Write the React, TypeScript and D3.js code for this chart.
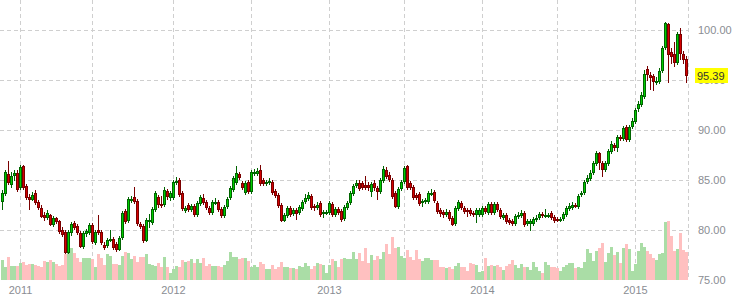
import React from "react";
import * as d3 from "d3";

const opens = [82.8,83.6,85.6,84.5,85.4,85.7,84.2,86.4,84.4,83.3,83.0,83.7,82.8,82.2,81.5,81.2,81.5,80.5,81.2,80.9,80.0,79.8,77.7,79.7,80.7,80.4,79.7,78.3,79.6,79.7,80.5,78.7,80.0,79.8,78.5,78.4,79.0,79.1,78.6,78.0,79.2,81.9,80.9,82.9,83.3,82.9,80.6,80.4,78.9,80.9,80.7,82.0,83.3,82.6,82.5,83.9,83.2,83.2,84.7,85.0,83.7,81.9,82.5,82.0,82.4,81.5,82.6,83.2,82.8,82.2,81.7,82.7,82.8,82.1,81.4,82.3,83.2,84.0,84.7,85.6,84.7,83.7,84.8,83.8,85.6,85.6,86.0,85.0,84.6,84.7,84.8,83.9,83.5,82.5,80.9,81.4,82.2,81.6,82.0,81.7,82.1,82.8,83.1,83.4,82.4,82.2,82.7,81.6,81.7,81.7,82.6,81.5,82.1,81.9,81.1,82.2,82.7,83.6,84.4,84.7,84.7,84.5,84.5,83.8,84.7,84.2,83.8,84.9,86.0,85.5,85.0,83.7,82.3,84.1,84.8,86.4,84.7,84.3,83.5,83.6,82.8,82.8,82.8,83.6,83.8,82.7,82.0,81.8,81.5,81.8,81.2,80.6,82.1,82.7,82.2,82.0,82.0,81.7,81.5,81.5,81.5,82.2,81.7,82.6,81.7,82.6,82.0,81.2,81.5,81.0,80.9,80.6,81.3,81.4,81.7,80.6,80.6,80.6,81.0,81.2,81.6,81.4,81.4,81.7,81.3,81.1,81.0,81.1,81.5,82.1,82.2,82.5,82.3,83.5,83.7,84.8,85.1,85.7,86.6,87.7,86.7,86.0,86.6,87.8,88.5,88.2,89.3,89.1,90.3,89.0,90.3,90.8,92.1,92.5,93.3,96.1,95.5,95.4,94.7,94.8,95.9,98.2,100.6,97.8,97.6,96.7,99.6,97.6,97.1];
const highs = [84.0,86.0,86.9,85.8,86.0,86.0,86.5,86.5,84.6,83.6,83.8,84.0,83.0,82.5,81.8,82.0,81.6,81.4,81.3,81.0,80.3,80.0,80.0,80.8,80.9,80.6,79.9,79.9,80.1,80.7,80.7,80.0,81.5,80.0,78.8,79.2,80.0,79.3,78.8,79.4,81.9,82.1,83.3,83.4,84.3,83.1,80.8,80.6,81.2,81.6,82.3,83.9,83.5,83.4,84.3,84.1,83.9,85.0,85.3,85.2,83.9,82.4,82.7,82.6,82.6,82.9,83.5,83.6,83.0,82.4,83.0,83.2,83.0,82.3,82.5,83.3,84.4,85.4,86.4,85.8,84.9,84.9,85.0,86.0,86.1,86.2,86.5,85.2,85.0,85.2,85.0,84.1,83.7,82.7,81.7,82.4,82.4,82.2,82.2,82.5,83.0,83.6,83.8,83.6,82.6,82.8,82.9,82.0,82.0,82.9,82.8,82.3,82.3,82.1,82.5,82.9,83.9,84.6,85.0,85.0,84.9,85.4,84.8,84.8,85.0,84.4,85.2,86.4,86.3,85.8,85.2,83.9,84.3,85.0,86.4,86.5,84.9,84.5,83.7,83.8,83.1,83.2,83.9,84.1,84.0,82.9,82.2,82.0,82.1,82.0,81.4,82.4,83.0,82.9,82.4,82.2,82.2,81.9,82.2,82.2,82.4,82.4,82.8,82.8,82.8,82.8,82.2,81.7,81.7,81.2,81.1,81.6,81.8,82.0,81.9,81.1,81.1,81.3,81.5,81.8,81.8,82.1,81.7,81.9,81.5,81.3,81.3,81.8,82.4,82.7,82.8,82.7,83.6,83.9,85.0,85.5,86.0,86.9,87.9,87.8,86.9,86.9,88.1,88.9,88.7,89.5,89.5,90.4,90.5,90.5,91.2,92.2,92.9,93.8,96.0,96.4,95.8,95.6,95.3,96.2,98.4,100.8,100.7,98.2,98.8,99.8,100.2,97.9,97.4];
const lows = [82.0,83.4,84.5,84.2,84.9,83.8,84.0,84.0,83.0,82.0,82.9,82.5,82.0,81.2,80.9,81.0,80.4,80.3,80.6,79.6,79.3,77.6,77.6,79.4,80.0,79.5,78.2,78.1,79.3,79.5,78.6,78.5,79.5,78.5,78.0,78.2,78.8,78.0,77.8,77.9,79.0,80.6,80.7,82.7,82.6,80.4,80.1,78.7,78.8,80.2,80.5,81.8,82.2,82.2,82.3,83.0,82.9,83.0,84.5,83.3,81.9,81.7,81.8,81.8,81.3,81.3,82.4,82.5,82.0,81.5,81.5,82.5,81.8,81.2,81.2,82.1,83.0,83.8,84.5,85.0,84.0,83.5,83.6,83.6,85.4,85.4,84.4,84.4,84.4,84.5,83.5,83.2,82.2,80.8,80.8,81.2,81.3,81.4,81.0,81.5,81.9,82.6,82.9,82.0,81.9,82.0,81.3,81.2,81.5,81.5,81.3,81.3,81.5,80.8,80.9,82.0,82.5,83.4,84.2,83.9,84.0,84.0,83.9,83.3,83.9,83.0,83.6,84.7,85.1,84.8,83.1,82.2,82.1,83.9,84.6,84.0,84.0,83.0,83.0,82.4,82.3,82.6,82.6,83.4,82.7,81.6,81.3,81.2,81.3,80.9,80.4,80.4,81.9,82.0,81.6,81.3,81.4,81.3,80.7,81.3,81.3,81.6,81.5,81.5,81.5,81.8,81.1,81.0,80.6,80.5,80.4,80.4,81.1,81.2,80.3,80.4,79.9,80.4,80.8,81.0,81.2,81.2,81.2,81.0,80.7,80.8,80.8,80.9,81.3,81.9,82.0,82.2,82.1,83.3,83.5,84.6,84.9,85.5,86.4,86.0,85.3,85.8,86.4,87.6,87.9,87.8,88.9,88.9,88.8,88.8,90.1,90.6,91.8,92.3,93.1,94.9,94.0,93.9,94.5,94.6,95.7,98.0,94.7,96.6,96.3,96.5,97.0,96.6,94.7];
const closes = [83.7,85.8,84.7,85.4,85.7,84.0,86.3,84.2,83.2,83.0,83.5,82.7,82.2,81.3,81.2,81.7,80.5,81.2,80.8,79.8,79.5,77.7,79.8,80.6,80.2,79.7,78.3,79.7,79.9,80.5,78.8,79.8,79.7,78.7,78.2,79.0,79.1,78.2,78.0,79.2,81.7,80.8,83.1,83.1,82.8,80.6,80.3,78.9,81.0,81.0,82.1,83.7,82.5,82.4,84.0,83.3,83.7,84.8,84.9,83.5,82.1,82.2,82.0,82.4,81.5,82.7,83.3,82.7,82.2,81.7,82.8,82.8,82.0,81.4,82.3,83.1,84.2,85.2,85.7,85.2,84.2,84.7,83.8,85.8,85.8,85.9,84.6,84.6,84.8,84.9,83.7,83.4,82.4,80.9,81.5,82.2,81.5,82.0,81.6,82.3,82.8,83.2,83.5,82.2,82.2,82.5,81.5,81.8,81.8,82.7,81.5,82.1,81.7,81.0,82.3,82.7,83.7,84.4,84.7,84.1,84.2,84.2,84.2,84.6,84.2,83.8,85.0,86.1,85.3,85.0,83.3,82.3,84.1,84.8,86.2,84.2,84.2,83.2,83.2,82.6,82.9,83.0,83.7,83.7,82.9,81.8,81.6,81.5,81.8,81.1,80.5,82.2,82.8,82.2,81.8,81.8,81.6,81.5,82.0,82.0,82.2,81.8,82.6,81.7,82.6,82.0,81.3,81.5,80.8,80.7,80.6,81.4,81.5,81.7,80.5,80.9,80.9,81.1,81.2,81.6,81.4,81.5,81.5,81.2,80.9,81.0,81.1,81.6,82.2,82.4,82.5,82.4,83.4,83.7,84.8,85.2,85.7,86.7,87.7,86.7,86.0,86.7,87.9,88.6,88.2,89.3,89.1,90.2,89.0,90.3,90.9,92.0,92.6,93.5,95.6,95.5,95.2,94.8,94.9,95.9,98.2,100.7,97.5,97.3,96.7,99.6,97.6,97.0,95.39];
const volumes = [20,13,23,14,14,14,17,18,15,16,16,15,14,13,19,18,20,18,16,14,15,26,27,32,27,22,18,22,22,22,21,13,26,22,15,26,24,16,16,15,24,28,27,21,24,18,23,23,26,16,15,14,17,13,23,13,7,11,14,13,20,18,19,21,17,21,17,22,14,16,14,14,14,13,15,19,28,23,23,21,22,22,19,13,15,13,18,16,11,11,15,11,13,18,13,13,12,12,11,14,13,17,14,11,14,17,16,15,7,15,21,19,13,21,22,21,21,28,21,27,19,32,17,25,20,24,21,28,36,26,43,32,33,24,22,30,23,20,30,21,19,22,22,20,20,20,13,13,12,13,11,14,17,13,13,9,17,16,15,8,9,22,14,15,14,15,13,10,14,16,20,15,12,16,13,13,10,18,13,9,7,18,15,13,13,12,9,13,15,17,17,12,13,12,18,31,27,19,29,32,37,18,27,33,25,28,17,32,36,31,9,16,29,37,33,29,26,22,20,26,27,58,59,44,29,31,47,30,28];

const priceTicks = [75, 80, 85, 90, 95, 100];
const yearLabels = ["2011", "2012", "2013", "2014", "2015"];
const yearIdx = [6, 57, 109, 160, 211];
const gridIdx = [6, 30, 57, 83, 109, 134, 160, 185, 211];
const lastLabel = "95.39";

const W = 738;
const H = 296;

export default function App() {
  const N = closes.length;
  const x = d3.scaleLinear().domain([0, N - 1]).range([2.5, 2.5 + 3 * (N - 1)]);
  const y = d3.scaleLinear().domain([75, 100]).range([280, 30]);
  const yv = d3.scaleLinear().domain([0, 60]).range([280, 220]);
  const rightEdge = x(N - 1) + 2;
  const fmt = d3.format(".2f");
  const font = "'Liberation Sans', Arial, sans-serif";
  const lastY = y(closes[N - 1]);

  return (
    <svg width={W} height={H} style={{ position: "fixed", left: 0, top: 0, background: "#fff" }}
      shapeRendering="crispEdges">
      <rect x={0} y={0} width={W} height={H} fill="#fff" />
      {priceTicks.filter((t) => t > 75).map((t) => (
        <line key={"h" + t} x1={0} x2={rightEdge} y1={Math.round(y(t)) + 0.5} y2={Math.round(y(t)) + 0.5}
          stroke="#cfcfcf" strokeDasharray="4,3" />
      ))}
      {gridIdx.map((i) => (
        <line key={"v" + i} x1={Math.floor(x(i)) + 0.5} x2={Math.floor(x(i)) + 0.5} y1={0} y2={280}
          stroke="#cfcfcf" strokeDasharray="4,3" />
      ))}
      <line x1={Math.floor(rightEdge) + 0.5} x2={Math.floor(rightEdge) + 0.5} y1={0} y2={280}
        stroke="#cfcfcf" strokeDasharray="4,3" />
      {volumes.map((v, i) => {
        const up = closes[i] >= opens[i];
        const top = Math.round(yv(v));
        return (
          <rect key={"vol" + i} x={x(i) - 1.5} y={top} width={3} height={280 - top}
            fill={up ? "#aadda6" : "#ffc0c0"} />
        );
      })}
      {closes.map((c, i) => {
        const o = opens[i];
        const up = c >= o;
        const dark = up ? "#006400" : "#7a0000";
        const bright = up ? "#00cc00" : "#d40000";
        const left = x(i) - 1.5;
        const top = Math.round(y(Math.max(o, c)));
        const bot = Math.round(y(Math.min(o, c)));
        const h = Math.max(2, bot - top);
        const hi = Math.round(y(highs[i]));
        const lo = Math.round(y(lows[i]));
        return (
          <g key={"c" + i}>
            <rect x={left + 1} y={hi} width={1} height={Math.max(1, lo - hi)} fill={dark} />
            <rect x={left} y={top} width={3} height={h} fill={dark} />
            {h > 2 && <rect x={left + 1} y={top + 1} width={1} height={h - 2} fill={bright} />}
          </g>
        );
      })}
      {priceTicks.map((t) => (
        <text key={"t" + t} x={698} y={y(t) + 4} fontFamily={font} fontSize={11} fill="#8a8d93">
          {fmt(t)}
        </text>
      ))}
      {yearLabels.map((lab, k) => (
        <text key={lab} x={x(yearIdx[k])} y={294} textAnchor="middle" fontFamily={font} fontSize={11}
          fill="#8a8d93">
          {lab}
        </text>
      ))}
      <rect x={695} y={Math.round(lastY) - 8} width={33} height={15} fill="#ffff00" />
      <text x={697} y={lastY + 4} fontFamily={font} fontSize={11} fill="#333">
        {lastLabel}
      </text>
    </svg>
  );
}
